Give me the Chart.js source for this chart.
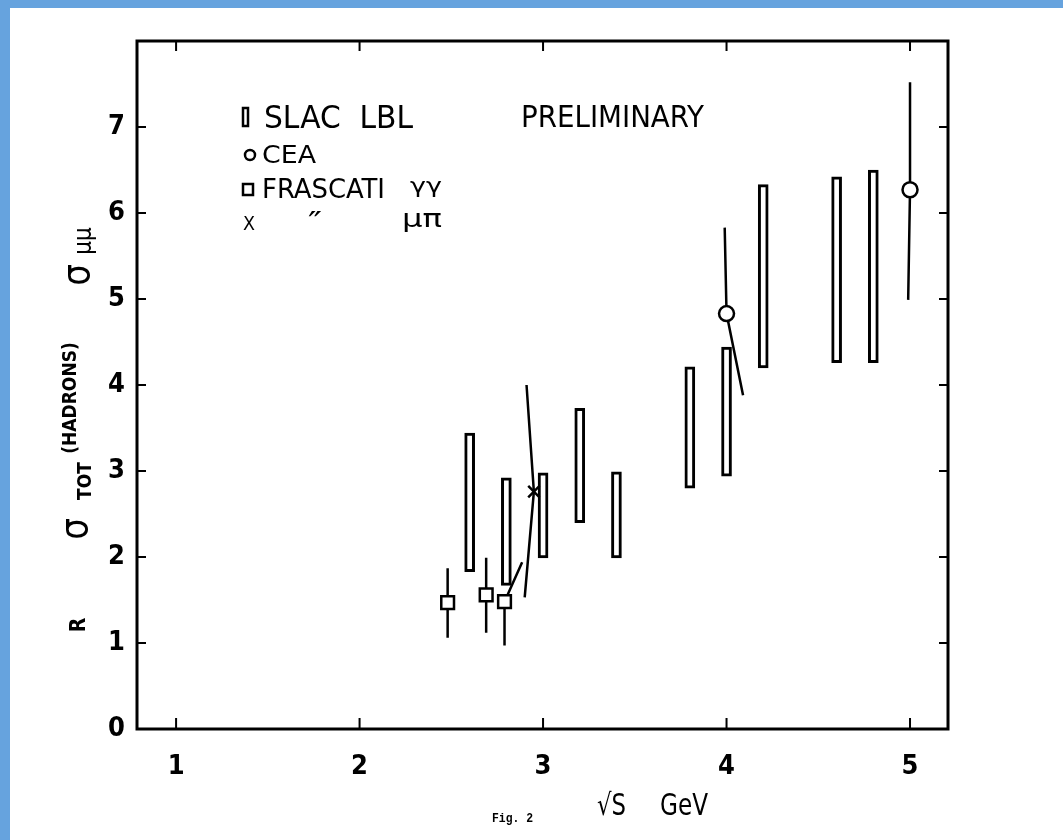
<!DOCTYPE html>
<html>
<head>
<meta charset="utf-8">
<script src="https://cdn.jsdelivr.net/npm/chart.js@4.4.1/dist/chart.umd.min.js"></script>
<style>
    html, body { margin: 0; padding: 0; background: #fff; }
    #wrap { position: relative; width: 1063px; height: 840px; overflow: hidden; }
    #chart { position: absolute; left: 0; top: 0; }
    .edge { position: absolute; background: #66a3de; }
</style>
</head>
<body>
<div id="wrap">
    <canvas id="chart" width="1063" height="840"></canvas>
    <div class="edge" style="left:0;top:0;width:1063px;height:8px"></div>
    <div class="edge" style="left:0;top:0;width:10px;height:840px"></div>
</div>
<script>
// values (sqrt(s) in GeV, R)
const slacX  = [2.6, 2.8, 3.0, 3.2, 3.4, 3.8, 4.0, 4.2, 4.6, 4.8];
const slacLo = [1.83, 1.67, 1.99, 2.40, 1.99, 2.80, 2.94, 4.20, 4.26, 4.26];
const slacHi = [3.44, 2.92, 2.98, 3.73, 2.99, 4.21, 4.44, 6.33, 6.42, 6.50];

const ceaX   = [4.0, 5.0];
const ceaY   = [4.83, 6.27];
const ceaHiX = [3.99, 5.0];
const ceaHi  = [5.83, 7.52];
const ceaLoX = [4.09, 4.99];
const ceaLo  = [3.88, 4.99];

const frasX   = [2.48, 2.69, 2.79];
const frasY   = [1.47, 1.56, 1.48];
const frasHiX = [2.48, 2.69, 2.886];
const frasHi  = [1.87, 1.99, 1.94];
const frasLoX = [2.48, 2.69, 2.79];
const frasLo  = [1.06, 1.12, 0.97];

const muX   = [2.95];
const muY   = [2.76];
const muHiX = [2.91];
const muHi  = [4.00];
const muLoX = [2.90];
const muLo  = [1.53];

const xTicks = [1, 2, 3, 4, 5];
const yTicks = [0, 1, 2, 3, 4, 5, 6, 7];

const FONT = "'DejaVu Sans Condensed', 'Liberation Sans Narrow', 'DejaVu Sans', sans-serif";

function errorLine(topX, top, x, y, botX, bot) {
    return {
        type: 'line',
        data: [{ x: topX, y: top }, { x: x, y: y }, { x: botX, y: bot }],
        borderColor: '#000',
        borderWidth: 2.5,
        pointRadius: 0,
        tension: 0,
        fill: false,
        order: 3
    };
}

const datasets = [{
    type: 'bar',
    label: 'SLAC LBL',
    data: slacX.map((x, i) => ({ x: x, y: [slacLo[i], slacHi[i]] })),
    backgroundColor: '#fff',
    borderColor: '#000',
    borderWidth: 3,
    borderSkipped: false,
    barThickness: 10,
    order: 2
}, {
    type: 'scatter',
    label: 'CEA',
    data: ceaX.map((x, i) => ({ x: x, y: ceaY[i] })),
    pointStyle: 'circle',
    pointRadius: 7.5,
    borderWidth: 2.5,
    borderColor: '#000',
    backgroundColor: '#fff',
    order: 0
}, {
    type: 'scatter',
    label: 'FRASCATI γγ',
    data: frasX.map((x, i) => ({ x: x, y: frasY[i] })),
    pointStyle: 'rect',
    pointRadius: 9,
    borderWidth: 2.5,
    borderColor: '#000',
    backgroundColor: '#fff',
    order: 0
}, {
    type: 'scatter',
    label: 'FRASCATI μπ',
    data: muX.map((x, i) => ({ x: x, y: muY[i] })),
    pointStyle: 'crossRot',
    pointRadius: 8,
    borderWidth: 2.5,
    borderColor: '#000',
    order: 0
}];

ceaX.forEach((x, i) => datasets.push(errorLine(ceaHiX[i], ceaHi[i], x, ceaY[i], ceaLoX[i], ceaLo[i])));
frasX.forEach((x, i) => datasets.push(errorLine(frasHiX[i], frasHi[i], x, frasY[i], frasLoX[i], frasLo[i])));
muX.forEach((x, i) => datasets.push(errorLine(muHiX[i], muHi[i], x, muY[i], muLoX[i], muLo[i])));

// draw text squeezed to a given width, baseline at y
function fitText(ctx, text, left, baseY, width, font) {
    ctx.save();
    ctx.font = font;
    ctx.textAlign = 'left';
    ctx.textBaseline = 'alphabetic';
    const w = ctx.measureText(text).width;
    ctx.translate(left, baseY);
    ctx.scale(width / w, 1);
    ctx.fillText(text, 0, 0);
    ctx.restore();
}

function vText(ctx, text, cx, cy, font) {
    ctx.save();
    ctx.font = font;
    ctx.textAlign = 'center';
    ctx.textBaseline = 'middle';
    ctx.translate(cx, cy);
    ctx.rotate(-Math.PI / 2);
    ctx.fillText(text, 0, 0);
    ctx.restore();
}

const framePlugin = {
    id: 'frame',
    afterDraw(chart) {
        const { ctx, chartArea: a, scales } = chart;
        ctx.save();
        ctx.strokeStyle = '#000';
        ctx.fillStyle = '#000';
        ctx.lineWidth = 3;
        ctx.strokeRect(a.left, a.top, a.right - a.left, a.bottom - a.top);

        // inward ticks on all four sides
        ctx.lineWidth = 2;
        ctx.beginPath();
        xTicks.forEach(v => {
            const px = scales.x.getPixelForValue(v);
            ctx.moveTo(px, a.bottom); ctx.lineTo(px, a.bottom - 11);
            ctx.moveTo(px, a.top); ctx.lineTo(px, a.top + 10);
        });
        yTicks.filter(v => v > 0).forEach(v => {
            const py = scales.y.getPixelForValue(v);
            ctx.moveTo(a.left, py); ctx.lineTo(a.left + 9, py);
            ctx.moveTo(a.right, py); ctx.lineTo(a.right - 9, py);
        });
        ctx.stroke();

        // hand drawn key
        ctx.lineWidth = 2.5;
        ctx.strokeRect(243, 108, 5, 18);
        ctx.beginPath();
        ctx.arc(250, 155, 5, 0, Math.PI * 2);
        ctx.stroke();
        ctx.strokeRect(243, 184, 10, 11);

        fitText(ctx, 'X', 243, 230, 12, '20px ' + FONT);
        fitText(ctx, 'SLAC  LBL', 264, 128, 149, '32px ' + FONT);
        fitText(ctx, 'CEA', 262, 163, 54, '25px ' + FONT);
        fitText(ctx, 'FRASCATI', 262, 198, 123, '26px ' + FONT);
        fitText(ctx, 'γγ', 410, 193, 32, '22px ' + FONT);
        fitText(ctx, '\u2033', 308, 232, 14, '28px ' + FONT);
        fitText(ctx, 'μπ', 402, 227, 40, '24px ' + FONT);
        fitText(ctx, 'PRELIMINARY', 521, 127, 183, '30px ' + FONT);

        // axis titles
        fitText(ctx, '\u221AS', 597, 815, 29, '30px ' + FONT);
        fitText(ctx, 'GeV', 660, 815, 48, '30px ' + FONT);
        fitText(ctx, 'Fig. 2', 492, 822, 41, 'bold 13px "Liberation Mono", monospace');

        vText(ctx, 'R', 80, 625, 'bold 21px ' + FONT);
        vText(ctx, 'σ', 77, 529, '38px ' + FONT);
        vText(ctx, 'TOT', 86, 481, 'bold 19px ' + FONT);
        vText(ctx, '(HADRONS)', 71, 398, 'bold 19px ' + FONT);
        vText(ctx, 'σ', 79, 275, '38px ' + FONT);
        vText(ctx, 'μμ', 85, 241, '24px ' + FONT);
        ctx.restore();
    }
};

new Chart(document.getElementById('chart'), {
    type: 'scatter',
    data: { datasets: datasets },
    options: {
        responsive: false,
        animation: false,
        devicePixelRatio: 1,
        layout: { padding: { top: 41, right: 115, left: 0, bottom: 0 } },
        plugins: {
            legend: { display: false },
            tooltip: { enabled: false }
        },
        scales: {
            x: {
                type: 'linear',
                offset: false,
                min: 0.787,
                max: 5.207,
                afterBuildTicks: s => { s.ticks = xTicks.map(v => ({ value: v })); },
                afterFit: s => { s.height = 111; },
                ticks: {
                    color: '#000',
                    padding: 22,
                    maxRotation: 0,
                    autoSkip: false,
                    font: { family: FONT, size: 27, weight: 'bold' }
                },
                grid: { display: false, drawTicks: false, offset: false },
                border: { display: false }
            },
            y: {
                min: 0,
                max: 8,
                afterBuildTicks: s => { s.ticks = yTicks.map(v => ({ value: v })); },
                afterFit: s => { s.width = 137; },
                ticks: {
                    color: '#000',
                    padding: 12,
                    autoSkip: false,
                    font: { family: FONT, size: 27, weight: 'bold' }
                },
                grid: { display: false, drawTicks: false },
                border: { display: false }
            }
        }
    },
    plugins: [framePlugin]
});
</script>
</body>
</html>
